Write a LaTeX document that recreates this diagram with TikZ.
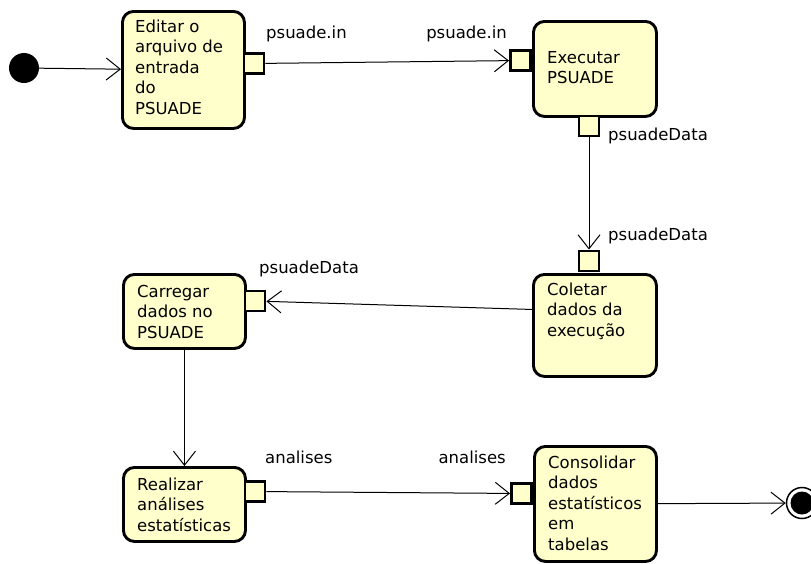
\documentclass[tikz,border=0pt]{standalone}
\usepackage{fontspec}
\setmainfont{DejaVu Sans}
\usetikzlibrary{arrows.meta,calc}
\definecolor{actfill}{RGB}{255,255,204}
\begin{document}
\begin{tikzpicture}[x=1pt,y=-1pt,
  act/.style={draw=black, line width=2.9pt, fill=actfill, rounded corners=11pt, inner sep=0pt, anchor=north west},
  pinbox/.style={draw=black, line width=2.9pt, fill=actfill, minimum size=20pt, inner sep=0pt},
  txt/.style={inner sep=0pt, align=left, font=\fontsize{16.5}{20.5}\selectfont, anchor=north west, yshift=14.35pt},
  lbl/.style={inner sep=0pt, font=\fontsize{16.5}{20}\selectfont},
  flow/.style={draw=black, line width=1pt, -{Straight Barb[length=14pt,width=22pt,line width=1pt]}},
]
\useasboundingbox[fill=white] (0,0) rectangle (811,563);

% initial and final
\node[circle, fill=black, minimum size=30pt, inner sep=0pt] (init) at (24,68) {};
\node[circle, draw=black, line width=1.5pt, fill=white, minimum size=31pt, inner sep=0pt] (final) at (802,503) {};
\fill[black] (final.center) circle[radius=11.5];

% activities
\node[act, minimum width=122pt, minimum height=117pt] (n1) at (121,10) {};
\node[txt] (n1t) at (135,32) {\strut Editar o\\arquivo de\\entrada\\do\\PSUADE};

\node[act, minimum width=123pt, minimum height=95pt] (n2) at (532,20) {};
\node[txt] (n2t) at (547,63) {\strut Executar\\PSUADE};

\node[act, minimum width=123pt, minimum height=102pt] (n3) at (532,273) {};
\node[txt] (n3t) at (547,295) {\strut Coletar\\dados da\\execução};

\node[act, minimum width=122pt, minimum height=74pt] (n4) at (122,273) {};
\node[txt] (n4t) at (137,297) {\strut Carregar\\dados no\\PSUADE};

\node[act, minimum width=122pt, minimum height=74pt] (n5) at (122,466) {};
\node[txt] (n5t) at (137,490) {\strut Realizar\\análises\\estatísticas};

\node[act, minimum width=122pt, minimum height=115pt] (n6) at (533,445) {};
\node[txt] (n6t) at (548,468) {\strut Consolidar\\dados\\estatísticos\\em\\tabelas};

% pins
\node[pinbox] (p1) at (254,63.5) {};
\node[pinbox] (p2) at (520.5,60.5) {};
\node[pinbox] (p3) at (589,126) {};
\node[pinbox] (p4) at (589,261) {};
\node[pinbox] (p5) at (255,301) {};
\node[pinbox] (p6) at (255,491.5) {};
\node[pinbox] (p7) at (521.5,493.5) {};

% pin labels
\node[lbl, anchor=base west] (l1) at (266,38) {psuade.in};
\node[lbl, anchor=base east] (l2) at (507,38) {psuade.in};
\node[lbl, anchor=base west] (l3) at (608,140) {psuadeData};
\node[lbl, anchor=base west] (l4) at (608,240) {psuadeData};
\node[lbl, anchor=base west] (l5) at (259,273) {psuadeData};
\node[lbl, anchor=base west] (l6) at (265,463) {analises};
\node[lbl, anchor=base east] (l7) at (506,463) {analises};

% flows
\draw[flow] (init) -- (n1);
\draw[flow] (p1) -- (p2);
\draw[flow] (p3) -- (p4);
\draw[flow] ([yshift=16pt]n3.west) -- (p5);
\draw[flow] (n4) -- (n5);
\draw[flow] (p6) -- (p7);
\draw[flow] (n6) -- (final);
\end{tikzpicture}
\end{document}
